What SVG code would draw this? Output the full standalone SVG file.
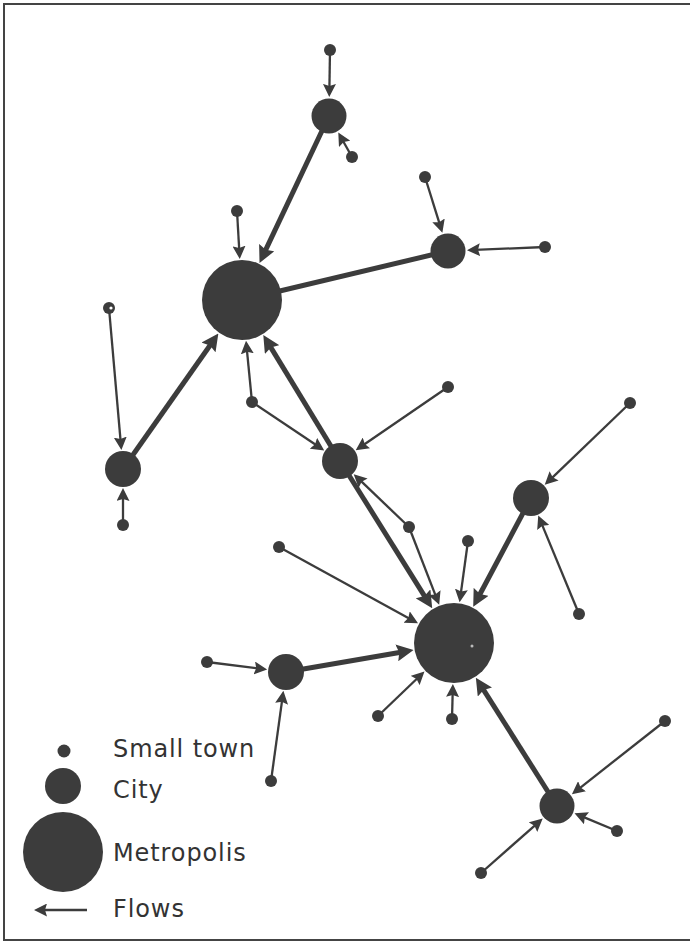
<svg xmlns="http://www.w3.org/2000/svg" width="690" height="943" viewBox="0 0 690 943">
<style>
.thin{stroke:#3c3c3c;stroke-width:2.3;fill:none;marker-end:url(#ah)}
.thick{stroke:#3c3c3c;stroke-width:5;fill:none;marker-end:url(#ahb)}
.plain{stroke:#3c3c3c;stroke-width:5;fill:none}
.n{fill:#3c3c3c}
.lbl{font-family:"DejaVu Sans",sans-serif;font-size:24px;fill:#333;letter-spacing:0.9px}
</style>
<defs>
<marker id="ah" markerUnits="userSpaceOnUse" markerWidth="13" markerHeight="13" viewBox="0 0 13 13" refX="5" refY="6.5" orient="auto"><path d="M0,0 L13,6.5 L0,13 L2,6.5 z" fill="#3c3c3c"/></marker>
<marker id="ahb" markerUnits="userSpaceOnUse" markerWidth="17" markerHeight="17" viewBox="0 0 17 17" refX="7" refY="8.5" orient="auto"><path d="M0,0 L17,8.5 L0,17 L2.5,8.5 z" fill="#3c3c3c"/></marker>
</defs>
<rect width="690" height="943" fill="#fff"/>
<path d="M690,4 H4 V940 H690" fill="none" stroke="#444" stroke-width="2"/>
<g id="connectors">
<line class="thin" x1="330" y1="50" x2="329.4" y2="89"/>
<line class="thin" x1="352" y1="157" x2="342.2" y2="139.5"/>
<line class="thin" x1="237" y1="211" x2="239.3" y2="251"/>
<line class="thin" x1="425" y1="177" x2="440" y2="225.2"/>
<line class="thin" x1="545" y1="247" x2="475" y2="249.9"/>
<line class="thin" x1="109" y1="308" x2="120.7" y2="442.1"/>
<line class="thin" x1="123" y1="525" x2="123" y2="496"/>
<line class="thin" x1="252" y1="402" x2="246.8" y2="348.8"/>
<line class="thin" x1="252" y1="402" x2="317.6" y2="446"/>
<line class="thin" x1="448" y1="387" x2="362.3" y2="445.7"/>
<line class="thin" x1="409" y1="527" x2="359.5" y2="479.7"/>
<line class="thin" x1="409" y1="527" x2="436.3" y2="597.3"/>
<line class="thin" x1="468" y1="541" x2="460.7" y2="594.4"/>
<line class="thin" x1="279" y1="547" x2="411" y2="619.4"/>
<line class="thin" x1="630" y1="403" x2="550.5" y2="479.3"/>
<line class="thin" x1="579" y1="614" x2="541.3" y2="522.9"/>
<line class="thin" x1="207" y1="662" x2="259.2" y2="668.6"/>
<line class="thin" x1="271" y1="781" x2="282.3" y2="698.8"/>
<line class="thin" x1="378" y1="716" x2="418.7" y2="677"/>
<line class="thin" x1="452" y1="719" x2="452.7" y2="692"/>
<line class="thin" x1="665" y1="721" x2="578.2" y2="789.3"/>
<line class="thin" x1="617" y1="831" x2="581.9" y2="816.4"/>
<line class="thin" x1="481" y1="873" x2="536.7" y2="823.8"/>
<line class="thick" x1="329" y1="116" x2="263.8" y2="253.9"/>
<line class="thick" x1="123" y1="469" x2="212.6" y2="341.7"/>
<line class="thick" x1="340" y1="461" x2="268.5" y2="343.6"/>
<line class="thick" x1="340" y1="461" x2="426.9" y2="599.8"/>
<line class="thick" x1="531" y1="498" x2="477.9" y2="598"/>
<line class="thick" x1="286" y1="672" x2="403.7" y2="651.7"/>
<line class="thick" x1="557" y1="806" x2="481.2" y2="686.1"/>
<line class="plain" x1="448" y1="251" x2="242" y2="300"/>
</g>
<g id="metropolis-a"><circle class="n" cx="242" cy="300" r="40"/></g>
<g id="metropolis-b"><circle class="n" cx="454" cy="643" r="40"/><circle cx="472" cy="646" r="1.5" fill="#bbb"/></g>
<g id="city-1"><circle class="n" cx="329" cy="116" r="17.5"/></g>
<g id="city-2"><circle class="n" cx="448" cy="251" r="17.5"/></g>
<g id="city-3"><circle class="n" cx="123" cy="469" r="18"/></g>
<g id="city-4"><circle class="n" cx="340" cy="461" r="18"/></g>
<g id="city-5"><circle class="n" cx="531" cy="498" r="18"/></g>
<g id="city-6"><circle class="n" cx="286" cy="672" r="18"/></g>
<g id="city-7"><circle class="n" cx="557" cy="806" r="17.5"/></g>
<g id="town-1"><circle class="n" cx="330" cy="50" r="6"/></g>
<g id="town-2"><circle class="n" cx="352" cy="157" r="6"/></g>
<g id="town-3"><circle class="n" cx="237" cy="211" r="6"/></g>
<g id="town-4"><circle class="n" cx="425" cy="177" r="6"/></g>
<g id="town-5"><circle class="n" cx="545" cy="247" r="6"/></g>
<g id="town-6"><circle class="n" cx="109" cy="308" r="6"/><circle cx="111" cy="308" r="1.6" fill="#fff"/></g>
<g id="town-7"><circle class="n" cx="252" cy="402" r="6"/></g>
<g id="town-8"><circle class="n" cx="448" cy="387" r="6"/></g>
<g id="town-9"><circle class="n" cx="123" cy="525" r="6"/></g>
<g id="town-10"><circle class="n" cx="409" cy="527" r="6"/></g>
<g id="town-11"><circle class="n" cx="630" cy="403" r="6"/></g>
<g id="town-12"><circle class="n" cx="468" cy="541" r="6"/></g>
<g id="town-13"><circle class="n" cx="579" cy="614" r="6"/></g>
<g id="town-14"><circle class="n" cx="279" cy="547" r="6"/></g>
<g id="town-15"><circle class="n" cx="207" cy="662" r="6"/></g>
<g id="town-16"><circle class="n" cx="378" cy="716" r="6"/></g>
<g id="town-17"><circle class="n" cx="452" cy="719" r="6"/></g>
<g id="town-18"><circle class="n" cx="271" cy="781" r="6"/></g>
<g id="town-19"><circle class="n" cx="665" cy="721" r="6"/></g>
<g id="town-20"><circle class="n" cx="617" cy="831" r="6"/></g>
<g id="town-21"><circle class="n" cx="481" cy="873" r="6"/></g>
<g id="legend">
<circle class="n" cx="64" cy="751" r="6.5"/>
<circle class="n" cx="63" cy="786" r="18"/>
<circle class="n" cx="63" cy="852" r="40"/>
<line x1="87" y1="910" x2="42" y2="910" stroke="#3c3c3c" stroke-width="2.5" marker-end="url(#ah)"/>
<text class="lbl" x="113" y="757">Small town</text>
<text class="lbl" x="113" y="798">City</text>
<text class="lbl" x="113" y="861">Metropolis</text>
<text class="lbl" x="113" y="917">Flows</text>
</g>
</svg>
